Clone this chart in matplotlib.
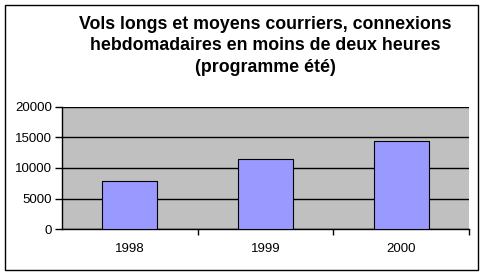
import matplotlib
matplotlib.use("Agg")
import matplotlib.pyplot as plt
from matplotlib.patches import Rectangle

years = ["1998", "1999", "2000"]
values = [7900, 11450, 14400]
yticks = [0, 5000, 10000, 15000, 20000]
title = "Vols longs et moyens courriers, connexions\nhebdomadaires en moins de deux heures\n(programme été)"

plt.rcParams['font.family'] = ['Liberation Sans', 'DejaVu Sans']

W, H = 485, 276
fig = plt.figure(figsize=(W/100, H/100), dpi=100)
fig.patch.set_facecolor('white')

# outer border
fig.add_artist(Rectangle((5/W, 1-270/H), (478-5)/W, (270-5)/H, transform=fig.transFigure,
                         fill=False, edgecolor='black', linewidth=1))

x0, x1, y0, y1 = 62, 469, 107, 229
ax = fig.add_axes([x0/W, 1-y1/H, (x1-x0)/W, (y1-y0)/H])
ax.set_facecolor('#C0C0C0')
ax.set_ylim(0, 20000)
ax.set_xlim(-0.5, len(years)-0.5)
ax.set_yticks(yticks)
ax.set_yticklabels([str(v) for v in yticks], fontsize=9.5)
ax.yaxis.grid(True, color='black', linewidth=1)
ax.set_axisbelow(True)
ax.bar(range(len(years)), values, width=0.405, color='#9999FF', edgecolor='black', linewidth=0.8, zorder=3)

# category labels without ticks, with boundary ticks
ax.set_xticks([i + 0.5 for i in range(len(years))])
ax.set_xticklabels([])
ax.set_xticks(range(len(years)), minor=True)
ax.set_xticklabels(years, minor=True, fontsize=9.5)
ax.tick_params(axis='x', which='minor', length=0, pad=10)
ax.tick_params(axis='x', which='major', length=4, width=1, direction='out')
ax.tick_params(axis='y', length=5, width=1, direction='out', pad=2)
for s in ['top', 'right']:
    ax.spines[s].set_visible(False)
for s in ['left', 'bottom']:
    ax.spines[s].set_linewidth(1)

fig.text(265/W, 1-16/H, title, ha='center', va='top', fontsize=12.8, fontweight='bold',
         linespacing=1.33)

fig.savefig("out.png", dpi=100)
